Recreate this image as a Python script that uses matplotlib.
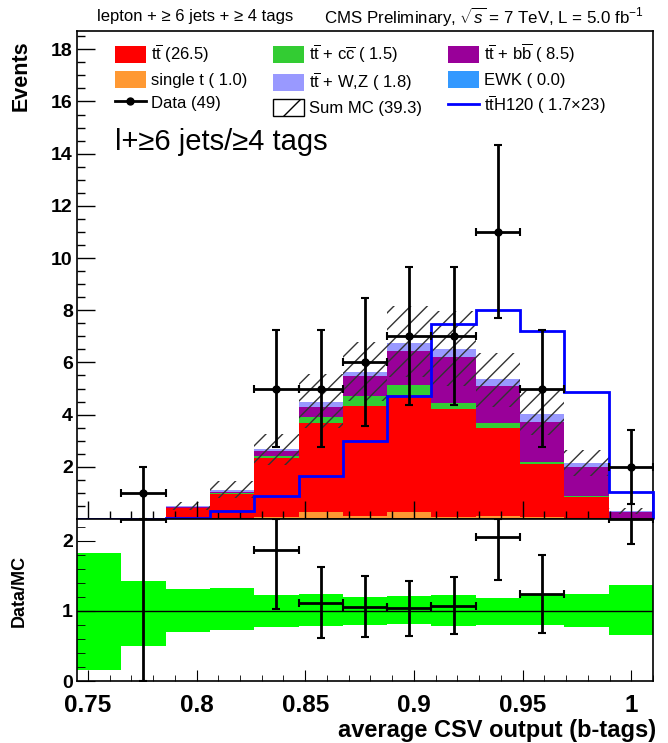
import numpy as np
import matplotlib
matplotlib.use('Agg')
import matplotlib.pyplot as plt
from matplotlib.patches import Patch
from matplotlib.lines import Line2D
from matplotlib.ticker import MultipleLocator

plt.rcParams['font.family'] = ['Liberation Sans', 'DejaVu Sans']
plt.rcParams['mathtext.fontset'] = 'custom'
plt.rcParams['mathtext.rm'] = 'Liberation Sans'
plt.rcParams['mathtext.it'] = 'Liberation Sans:italic'
plt.rcParams['mathtext.bf'] = 'Liberation Sans:bold'
plt.rcParams['hatch.linewidth'] = 1.0

# 13 bins of average CSV output
edges = np.linspace(0.745, 1.01, 14)

# stacked MC per bin (bottom to top)
single_t = [0, 0, 0, 0, 0.06, 0.25, 0.10, 0.25, 0.08, 0.10, 0.08, 0.02, 0]
ttbar = [0.01, 0.02, 0.43, 0.97, 2.27, 3.43, 4.24, 4.51, 4.15, 3.39, 2.01, 0.83, 0.02]
ttcc = [0, 0, 0.01, 0.03, 0.07, 0.24, 0.37, 0.37, 0.20, 0.17, 0.09, 0.02, 0]
ttbb = [0, 0, 0.03, 0.04, 0.22, 0.38, 0.76, 1.31, 1.79, 1.44, 1.55, 1.11, 0.25]
ttwz = [0, 0, 0.02, 0.06, 0.06, 0.17, 0.18, 0.30, 0.30, 0.25, 0.29, 0.16, 0.03]
ewk = [0] * 13

data = [0, 1, 0, 0, 5, 5, 6, 7, 7, 11, 5, 0, 2]
tth = [0, 0, 0.03, 0.30, 0.90, 1.63, 2.98, 4.72, 7.49, 8.00, 7.22, 4.88, 1.03]

# relative MC uncertainty band (lower / upper)
band_lo = [0.15, 0.50, 0.70, 0.73, 0.77, 0.78, 0.80, 0.81, 0.78, 0.80, 0.80, 0.77, 0.66]
band_hi = [1.83, 1.43, 1.31, 1.32, 1.22, 1.24, 1.20, 1.21, 1.22, 1.19, 1.23, 1.24, 1.37]

samples = [
    (single_t, '#ff9933'),
    (ttbar, '#ff0000'),
    (ttcc, '#33cc33'),
    (ttbb, '#990099'),
    (ttwz, '#9999ff'),
    (ewk, '#3399ff'),
]

centers = 0.5 * (edges[1:] + edges[:-1])
width = np.diff(edges)
data = np.array(data, dtype=float)

W, H = 668, 743
fig = plt.figure(figsize=(W / 100, H / 100), dpi=100)
ax = fig.add_axes([77 / W, 1 - 519 / H, (653 - 77) / W, (519 - 31) / H])
axr = fig.add_axes([77 / W, 1 - 681 / H, (653 - 77) / W, (681 - 519) / H])

# stack
bottom = np.zeros(13)
for vals, col in samples:
    vals = np.array(vals, dtype=float)
    ax.bar(centers, vals, width=width, bottom=bottom, color=col, linewidth=0)
    bottom += vals
mc = bottom.copy()

lo = mc * np.array(band_lo)
hi = mc * np.array(band_hi)
ax.bar(centers, hi - lo, width=width, bottom=lo, fill=False, hatch='//',
       edgecolor='#333333', linewidth=0)

ax.stairs(tth, edges, color='#0000ff', linewidth=2, clip_on=False, zorder=4)

has = data > 0
ax.errorbar(centers[has], data[has], xerr=width[has] / 2, yerr=np.sqrt(data[has]),
            fmt='o', color='black', ms=5, elinewidth=2, capsize=3, capthick=1.5,
            zorder=5)

ax.set_xlim(edges[0], edges[-1])
ax.set_ylim(0, 18.7)
ax.set_yticks(np.arange(2, 19, 2))
ax.yaxis.set_minor_locator(MultipleLocator(0.5))
ax.xaxis.set_major_locator(MultipleLocator(0.05))
ax.xaxis.set_minor_locator(MultipleLocator(0.01))
ax.tick_params(which='both', direction='in', top=False, right=False,
               labelbottom=False, labelsize=14, pad=3)
ax.tick_params(which='major', length=13, width=1)
ax.tick_params(which='minor', length=6, width=1)
for lbl in ax.get_yticklabels():
    lbl.set_fontweight('bold')

# ratio panel
rtop = 2.31
axr.bar(centers, hi / mc - lo / mc, width=width, bottom=np.array(band_lo),
        color='#00ff00', linewidth=0)
axr.axhline(1, color='black', linewidth=1)
r = data[has] / mc[has]
rerr = np.sqrt(data[has]) / mc[has]
ydraw = np.minimum(r, rtop)
ylow = ydraw - np.maximum(r - rerr, 0)
yup = np.minimum(r + rerr, rtop) - ydraw
axr.errorbar(centers[has], ydraw, xerr=width[has] / 2, yerr=[ylow, yup],
             fmt='none', ecolor='black', elinewidth=2, capsize=3, capthick=1.5)
axr.set_xlim(edges[0], edges[-1])
axr.set_ylim(0, rtop)
axr.set_yticks([0, 1, 2])
axr.yaxis.set_minor_locator(MultipleLocator(0.2))
axr.xaxis.set_major_locator(MultipleLocator(0.05))
axr.xaxis.set_minor_locator(MultipleLocator(0.01))
axr.set_xticks([0.75, 0.8, 0.85, 0.9, 0.95, 1.0])
axr.set_xticklabels(['0.75', '0.8', '0.85', '0.9', '0.95', '1'])
axr.tick_params(which='both', direction='in', top=False, right=False)
axr.tick_params(axis='y', which='major', length=13, labelsize=14, pad=3)
axr.tick_params(axis='y', which='minor', length=6)
axr.tick_params(axis='x', which='major', length=8, labelsize=17.5, pad=9)
axr.tick_params(axis='x', which='minor', length=4)
for lbl in axr.get_xticklabels() + axr.get_yticklabels():
    lbl.set_fontweight('bold')

for a in (ax, axr):
    for s in a.spines.values():
        s.set_linewidth(1.2)

# texts
fig.text(97 / W, 1 - 17 / H, 'lepton + \u2265 6 jets + \u2265 4 tags',
         fontsize=12, va='center')
fig.text(324 / W, 1 - 17 / H,
         r'CMS Preliminary, $\sqrt{s}$ = 7 TeV, L = 5.0 fb$^{\mathregular{-1}}$',
         fontsize=12.2, va='center')
fig.text(115 / W, 1 - 142 / H, 'l+\u22656 jets/\u22654 tags', fontsize=21,
         va='center')
fig.text(21 / W, 1 - 40 / H, 'Events', rotation=90, ha='center', va='top',
         fontsize=15.5, fontweight='bold')
fig.text(19 / W, 1 - 591 / H, 'Data/MC', rotation=90, ha='center', va='center',
         fontsize=13, fontweight='bold')
fig.text(656 / W, 1 - 730 / H, 'average CSV output (b-tags)', ha='right',
         va='center', fontsize=17, fontweight='bold')

# legend
tt = r'$\mathregular{t\overline{t}}$'
handles = [
    Patch(facecolor='#ff0000', linewidth=0),
    Patch(facecolor='#ff9933', linewidth=0),
    Line2D([0], [0], color='black', marker='o', ms=5, linewidth=2),
    Patch(facecolor='#33cc33', linewidth=0),
    Patch(facecolor='#9999ff', linewidth=0),
    Patch(facecolor='white', edgecolor='black', hatch='/', linewidth=1),
    Patch(facecolor='#990099', linewidth=0),
    Patch(facecolor='#3399ff', linewidth=0),
    Line2D([0], [0], color='#0000ff', linewidth=2),
]
labels = [
    tt + ' (26.5)',
    'single t ( 1.0)',
    'Data (49)',
    tt + r' + $\mathregular{c\overline{c}}$ ( 1.5)',
    tt + ' + W,Z ( 1.8)',
    'Sum MC (39.3)',
    tt + r' + $\mathregular{b\overline{b}}$ ( 8.5)',
    'EWK ( 0.0)',
    tt + 'H120 ( 1.7\u00d723)',
]
fig.legend(handles, labels, ncol=3, loc='upper left',
           bbox_to_anchor=(115 / W, 1 - 42 / H), bbox_transform=fig.transFigure,
           frameon=False, fontsize=12, borderpad=0, borderaxespad=0,
           handlelength=1.85, handleheight=1.14, handletextpad=0.3,
           columnspacing=1.55, labelspacing=0.36)

fig.savefig('out.png', dpi=100)
